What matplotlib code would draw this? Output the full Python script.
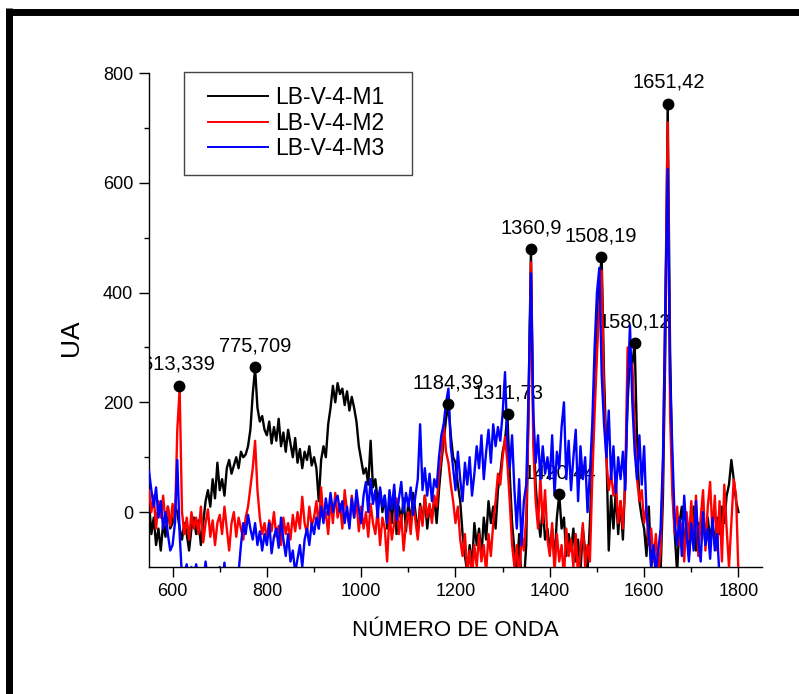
import numpy as np
import matplotlib
matplotlib.use("Agg")
import matplotlib.pyplot as plt
from matplotlib.lines import Line2D
from matplotlib.patches import Rectangle

plt.rcParams['font.family'] = ['Liberation Sans', 'DejaVu Sans']

# wavenumber grid, 550 .. 1800 every 5
wavenumber = np.arange(550, 1801, 5)

m1 = [20, -40, -10, -60, -30, -70, -20, -45, 10, -30,
      -20, 10, 0, -30, -50, -20, -40, -70, -30, -10,
      -40, -15, -60, -20, 20, 40, 10, 60, 25, 90,
      40, 60, 30, 80, 95, 70, 85, 100, 80, 110,
      100, 105, 120, 150, 215, 262, 190, 165, 175, 150,
      140, 165, 125, 155, 130, 170, 120, 145, 110, 150,
      125, 100, 135, 90, 115, 80, 110, 95, 120, 85,
      100, 80, 20, 95, 120, 100, 160, 190, 230, 200,
      235, 215, 225, 195, 220, 185, 210, 190, 165, 120,
      95, 70, 80, 50, 130, 45, 60, 20, 40, 0,
      30, -30, 15, -20, 40, -40, 10, -15, 25, -35,
      20, -25, 35, 0, -40, 15, -20, 30, -30, 10,
      -10, 25, -20, 40, 90, 130, 170, 195, 140, 100,
      90, 50, 20, -40, -80, -110, -60, -100, -20, -60,
      -30, -80, -10, -50, 20, -20, 10, -30, 40, 70,
      110, 130, 178, 70, -20, -70, -110, -40, -130, -130,
      -60, 200, 479, 160, 50, -10, -45, 10, -50, -30,
      -70, -30, -90, -10, 33, -30, -10, -80, -40, -70,
      -30, -90, -50, -110, -30, -70, -110, -20, 90, 230,
      330, 420, 464, 250, 110, -70, 30, -30, 40, -40,
      20, -50, 60, 200, 285, 270, 308, 130, 20, -10,
      -30, -80, 10, -100, -60, -120, -130, -110, 30, 300,
      744, 300, 60, -40, -110, -20, 10, -60, -20, -80,
      -30, 10, -70, -20, -40, 0, -60, -10, -50, -20,
      -60, -10, -40, 10, -20, 30, 50, 95, 60, 20, 0]

m2 = [40, 0, 30, -30, 20, -10, 30, -20, 10, -25,
      15, -20, 150, 225, 0, -40, -10, -50, 0, -30,
      -10, -40, 10, -55, -20, 5, -45, -15, -60, -20,
      -5, -40, 10, -30, -70, -20, 0, -45, -10, -30,
      -50, -10, 10, 45, 80, 130, 40, -10, -40, -20,
      -50, -15, -35, 0, -45, -25, -60, -10, -40, -20,
      -50, -5, -35, 0, -30, 28, -20, -40, 10, -25,
      -10, 20, -30, 45, -15, 0, -40, 25, -20, 35,
      -10, 15, -30, 40, 0, -25, 30, -10, 20, -35,
      10, -30, 0, -45, 15, -20, -40, 5, -60, -10,
      -30, -90, 0, -50, -20, 25, -40, -5, -70, -20,
      0, -40, 20, -15, -50, 10, -25, 30, -10, 15,
      -20, 30, 10, 70, 100, 160, 110, 90, 50, 20,
      -20, 10, -50, -80, -40, -110, -70, -120, -60, -100,
      -40, -90, -60, -110, -40, -80, -20, 20, 70, 50,
      100, 137, 90, 20, -60, -100, -60, -130, -40, -70,
      -10, 180, 455, 120, 20, -30, 65, -20, 40, -50,
      -80, -20, -110, -40, -90, -60, -120, -30, -80, -50,
      -100, -40, -120, -70, -20, -100, -60, -90, 60, 180,
      285, 380, 440, 200, 95, 40, 70, 30, 60, -20,
      20, -30, 60, 300, 265, 270, 150, 60, 20, 40,
      -20, 10, -60, -30, -90, -40, -110, -70, 80, 380,
      710, 180, 30, -40, 10, -60, -20, -90, 0, -50,
      20, -60, 30, -80, -10, 40, -70, 10, 55, -40,
      30, -70, 20, -90, 50, -30, -100, -20, 60, 30, -110]

m3 = [75, 40, 10, 45, -10, 20, -30, 0, -40, -70,
      -60, -20, 95, -40, -120, -110, -95, -130, -100, -120,
      -95, -120, -105, -130, -90, -125, -140, -110, -130, -115,
      -100, -130, -92, -140, -120, -130, -115, -130, -110, -60,
      -20, -40, -5, -30, -50, -20, -60, -35, -70, -40,
      -60, -20, -75, -45, -30, -65, -10, -50, -80, -40,
      -90, -70, -110, -85, -60, -100, -50, -30, -60, -20,
      -40, -10, -30, 10, -20, 25, -5, 35, 0, 20,
      30, 0, 20, -20, 10, -30, 25, -10, 40, 5,
      -20, 30, 55, 0, 60, 15, 40, -10, 45, 10,
      30, -20, 40, 5, 50, -15, 25, 55, 0, 35,
      10, 45, -5, 30, 60, 160, 40, 80, 30, 70,
      20, 60, 45, 100, 140, 160, 200, 225, 120, 80,
      40, 110, 60, 20, 90, 50, 100, 30, 70, 120,
      80, 140, 60, 110, 150, 90, 160, 120, 155, 130,
      180, 255, 130, 80, 140, 40, -30, 60, -60, 20,
      50, 220, 435, 180, 90, 140, 60, 120, 70, 100,
      60, 140, 30, 110, 80, 155, 200, 60, 130, 40,
      100, 150, 20, 120, 60, 100, 0, 70, 160, 300,
      400, 445, 250, 160, 100, 185, 60, 120, 35, 100,
      60, 110, 40, 220, 340, 200, 110, 60, 140, 50,
      120, 0, -40, -100, -60, -110, -70, -30, 100, 380,
      625, 250, 110, -20, -60, -10, -80, 30, -40, -90,
      -20, -70, 20, -50, -90, 0, -60, -30, -85, -10,
      -70, -40, -120, -140, -150, -160, -150, -160, -150, -160, -150]

series_names = ['LB-V-4-M1', 'LB-V-4-M2', 'LB-V-4-M3']
series_colors = ['black', 'red', 'blue']

peak_x = [613.339, 775.709, 1184.39, 1311.73, 1360.9, 1420.44, 1508.19, 1580.12, 1651.42]
peak_y = [230, 264, 197, 178, 479, 33, 464, 308, 744]
peak_labels = ['613,339', '775,709', '1184,39', '1311,73', '1360,9',
               '1420,44', '1508,19', '1580,12', '1651,42']

fig = plt.figure(figsize=(7.99, 6.94), dpi=100)
ax = fig.add_axes([149 / 799, 1 - 567 / 694, (762 - 149) / 799, (567 - 73) / 694])

handles = []
for data, name, col in zip([m1, m2, m3], series_names, series_colors):
    line, = ax.plot(wavenumber, data, color=col, lw=1.7, label=name, zorder=3)
    handles.append(line)

ax.plot(peak_x, peak_y, 'o', color='black', ms=7.5, zorder=5, clip_on=False)
for px, py, lab in zip(peak_x, peak_y, peak_labels):
    ax.annotate(lab, (px, py), xytext=(0, 11.5), textcoords='offset points',
                ha='center', va='baseline', fontsize=14.5, zorder=2,
                annotation_clip=True, clip_on=True)

ax.set_xlim(550, 1850)
ax.set_ylim(-100, 800)
ax.set_xticks([600, 800, 1000, 1200, 1400, 1600, 1800])
ax.set_xticks(np.arange(700, 1800, 200), minor=True)
ax.set_yticks([0, 200, 400, 600, 800])
ax.set_yticks([100, 300, 500, 700], minor=True)
ax.tick_params(which='major', direction='out', length=7, width=1, labelsize=13, pad=4.5)
ax.tick_params(which='minor', direction='out', length=3.5, width=1)
for s in ['top', 'right']:
    ax.spines[s].set_visible(False)
for s in ['left', 'bottom']:
    ax.spines[s].set_linewidth(1.0)

fig.text(455 / 799, 1 - 631 / 694, 'NÚMERO DE ONDA', ha='center', va='center', fontsize=16)
fig.text(71 / 799, 1 - 338 / 694, 'UA', ha='center', va='center', rotation=90, fontsize=19)

leg = fig.legend(handles=handles, loc='upper left', bbox_to_anchor=(208 / 799, 1 - 86 / 694),
                 frameon=False, fontsize=16.5, handlelength=2.6, handletextpad=0.35,
                 labelspacing=0.11, borderpad=0, borderaxespad=0)
for h in leg.legend_handles:
    h.set_linewidth(1.4)
fig.add_artist(Rectangle((184 / 799, 1 - 175 / 694), (412 - 184) / 799, (175 - 72) / 694,
                         transform=fig.transFigure, fill=False, edgecolor='#444444', lw=1.0))

# thick frame round the picture
fig.add_artist(Line2D([9 / 799, 9 / 799], [0, 1 - 8 / 694], transform=fig.transFigure,
                      color='black', lw=5, solid_capstyle='butt'))
fig.add_artist(Line2D([6 / 799, 1], [1 - 11.5 / 694, 1 - 11.5 / 694], transform=fig.transFigure,
                      color='black', lw=5, solid_capstyle='butt'))

fig.savefig('out.png', dpi=100)
